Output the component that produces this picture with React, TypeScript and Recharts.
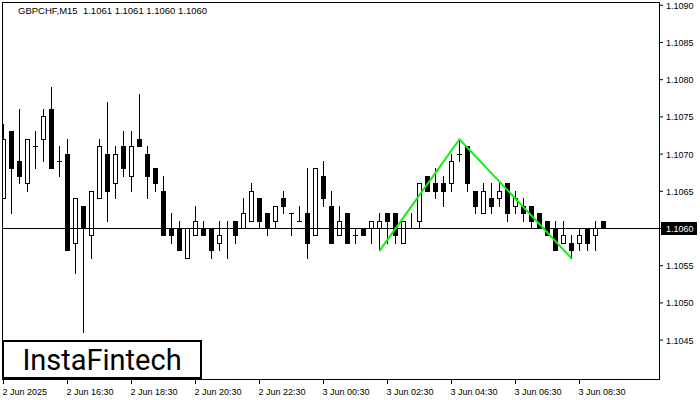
import { ComposedChart, Bar, Line, XAxis, YAxis, ReferenceLine } from "recharts";

// GBPCHF M15, 2 Jun 14:30 -> 3 Jun 09:15
const opens = [
  1.1064, 1.1073, 1.1069, 1.1066, 1.1071, 1.1072, 1.1076, 1.1069, 1.107, 1.1058,
  1.1063, 1.1059, 1.1064, 1.107, 1.1066, 1.1071, 1.1067, 1.1072, 1.107, 1.1068,
  1.1065, 1.106, 1.106, 1.1056, 1.1059, 1.106, 1.106, 1.1058, 1.106, 1.1061,
  1.106, 1.1061, 1.1064, 1.1062, 1.1061, 1.1064, 1.1062, 1.1061, 1.1062, 1.1059,
  1.1067, 1.1063, 1.1059, 1.1062, 1.1059, 1.106, 1.106, 1.106, 1.1062, 1.1062,
  1.1058, 1.106, 1.1061, 1.1067, 1.1066, 1.1066, 1.1066, 1.107, 1.1071, 1.1065,
  1.1062, 1.1064, 1.1064, 1.1066, 1.1063, 1.1063, 1.1063, 1.1062, 1.1061, 1.106,
  1.1058, 1.1058, 1.1058, 1.106, 1.1059, 1.1061,
];
const highs = [
  1.1074, 1.1073, 1.1076, 1.1072, 1.1073, 1.1076, 1.1079, 1.1071, 1.1072, 1.1064,
  1.1063, 1.1065, 1.1072, 1.1077, 1.1071, 1.1073, 1.1073, 1.1078, 1.1071, 1.1068,
  1.1067, 1.1062, 1.1061, 1.106, 1.1063, 1.1061, 1.106, 1.1061, 1.1061, 1.1061,
  1.1064, 1.1066, 1.1064, 1.1062, 1.1063, 1.1065, 1.1062, 1.1063, 1.1068, 1.1068,
  1.1069, 1.1065, 1.1063, 1.1062, 1.106, 1.106, 1.1061, 1.1062, 1.1062, 1.1062,
  1.1061, 1.1062, 1.1066, 1.1067, 1.1068, 1.1067, 1.107, 1.1072, 1.1071, 1.1065,
  1.1066, 1.1066, 1.1066, 1.1066, 1.1065, 1.1064, 1.1063, 1.1062, 1.1061, 1.1061,
  1.1061, 1.1059, 1.106, 1.106, 1.1061, 1.1061,
];
const lows = [
  1.1064, 1.1062, 1.1066, 1.1065, 1.1068, 1.1069, 1.1068, 1.1067, 1.1057, 1.1054,
  1.1046, 1.1056, 1.1064, 1.1061, 1.1064, 1.1067, 1.1065, 1.1071, 1.1064, 1.1065,
  1.1059, 1.1058, 1.1057, 1.1056, 1.1059, 1.1059, 1.1056, 1.1057, 1.1056, 1.1058,
  1.106, 1.1061, 1.106, 1.1059, 1.106, 1.1062, 1.1059, 1.1061, 1.1056, 1.1059,
  1.1063, 1.1058, 1.1059, 1.1058, 1.1058, 1.1059, 1.1058, 1.1057, 1.1058, 1.1058,
  1.1058, 1.106, 1.106, 1.1065, 1.1064, 1.1063, 1.1065, 1.1069, 1.1065, 1.1062,
  1.1062, 1.1062, 1.1063, 1.1061, 1.1062, 1.1061, 1.106, 1.106, 1.1059, 1.1057,
  1.1058, 1.1056, 1.1057, 1.1057, 1.1057, 1.106,
];
const closes = [
  1.1072, 1.1068, 1.1067, 1.1072, 1.1071, 1.1075, 1.1068, 1.1069, 1.1057, 1.1064,
  1.106, 1.1065, 1.1071, 1.1065, 1.107, 1.1068, 1.1071, 1.1071, 1.1067, 1.1066,
  1.1059, 1.1059, 1.1057, 1.106, 1.1061, 1.1059, 1.1057, 1.1059, 1.106, 1.1059,
  1.1062, 1.1065, 1.1061, 1.106, 1.1063, 1.1063, 1.1062, 1.1061, 1.1058, 1.1068,
  1.1064, 1.1058, 1.1061, 1.1058, 1.1059, 1.1059, 1.1061, 1.1061, 1.1061, 1.1059,
  1.1061, 1.106, 1.1066, 1.1065, 1.1065, 1.1065, 1.1069, 1.107, 1.1066, 1.1063,
  1.1065, 1.1063, 1.1065, 1.1062, 1.1064, 1.1062, 1.1061, 1.106, 1.1059, 1.1057,
  1.1059, 1.1057, 1.1059, 1.1058, 1.106, 1.106,
];

// green "top" pattern: bar index -> price
const patternBars = [47, 57, 71];
const patternPrices = [1.1057, 1.1072, 1.1056];

const timeTicks = [0, 8, 16, 24, 32, 40, 48, 56, 64, 72];
const timeLabels = [
  "2 Jun 2025", "2 Jun 16:30", "2 Jun 18:30", "2 Jun 20:30", "2 Jun 22:30",
  "3 Jun 00:30", "3 Jun 02:30", "3 Jun 04:30", "3 Jun 06:30", "3 Jun 08:30",
];
const priceTicks = [1.1045, 1.105, 1.1055, 1.106, 1.1065, 1.107, 1.1075, 1.108, 1.1085, 1.109];
const lastPrice = 1.106;

const data = opens.map((o, i) => {
  const p = patternBars.indexOf(i);
  return {
    i,
    open: o,
    high: highs[i],
    low: lows[i],
    close: closes[i],
    range: [lows[i], highs[i]],
    pattern: p >= 0 ? patternPrices[p] : null,
  };
});

const FONT = "'Liberation Sans', Arial, sans-serif";

function Candle(props: any) {
  const { x, y, width, height, payload } = props;
  const { open, close, high, low } = payload;
  const cx = Math.floor(x + width / 2) + 0.5;
  const k = high === low ? 0 : height / (high - low);
  const py = (v: number) => Math.floor(y + (high - v) * k) + 0.5;
  const top = py(Math.max(open, close));
  const bot = py(Math.min(open, close));
  return (
    <g>
      <line x1={cx} x2={cx} y1={py(high) - 0.5} y2={py(low) + 0.5} stroke="#000" strokeWidth={1} />
      {open === close ? (
        <line x1={cx - 2.5} x2={cx + 2.5} y1={top} y2={top} stroke="#000" strokeWidth={1} />
      ) : (
        <rect
          x={cx - 2}
          y={top}
          width={4}
          height={bot - top}
          fill={close > open ? "#fff" : "#000"}
          stroke="#000"
          strokeWidth={1}
        />
      )}
    </g>
  );
}

function PriceTick(props: any) {
  const { x, y, payload } = props;
  const hi = Math.abs(payload.value - lastPrice) < 1e-7;
  return (
    <g>
      {hi && <rect x={x - 5} y={y - 6.5} width={36} height={13} fill="#000" />}
      <text x={x} y={y} dy={3.5} fontSize={9} fontFamily={FONT} fill={hi ? "#fff" : "#000"}>
        {payload.value.toFixed(4)}
      </text>
    </g>
  );
}

function TimeTick(props: any) {
  const { x, y, payload } = props;
  const idx = timeTicks.indexOf(payload.value);
  return (
    <text x={x - 1} y={y} dy={8} fontSize={9} fontFamily={FONT} fill="#000" textAnchor="start">
      {timeLabels[idx]}
    </text>
  );
}

export default function App() {
  return (
    <div style={{ position: "absolute", left: 0, top: 0, width: 700, height: 400, background: "#fff" }}>
      <ComposedChart width={700} height={400} data={data} margin={{ top: 2, right: 0, bottom: 0, left: 2 }}>
        <XAxis
          dataKey="i"
          type="number"
          domain={[-0.1875, 82.0625]}
          allowDataOverflow
          ticks={timeTicks}
          interval={0}
          height={20}
          tickSize={4}
          tickMargin={3}
          axisLine={false}
          tickLine={{ stroke: "#000" }}
          tick={TimeTick}
        />
        <YAxis
          orientation="right"
          type="number"
          domain={[1.103964, 1.109044]}
          allowDataOverflow
          ticks={priceTicks}
          interval={0}
          width={40}
          tickSize={3}
          tickMargin={3}
          axisLine={false}
          tickLine={{ stroke: "#000" }}
          tick={PriceTick}
        />
        <ReferenceLine y={lastPrice} stroke="#000" strokeWidth={1} />
        <Bar dataKey="range" barSize={5} shape={Candle} isAnimationActive={false} />
        <Line
          dataKey="pattern"
          stroke="#11ee11"
          strokeWidth={2}
          dot={false}
          connectNulls
          isAnimationActive={false}
        />
      </ComposedChart>
      <div style={{ position: "absolute", left: 0, top: 0, width: 2, height: 381, background: "#fff" }} />
      <div
        style={{
          position: "absolute",
          left: 2,
          top: 2,
          width: 658,
          height: 378,
          boxSizing: "border-box",
          border: "1px solid #000",
          pointerEvents: "none",
        }}
      />
      <div
        style={{
          position: "absolute",
          left: 18,
          top: 5,
          fontFamily: FONT,
          fontSize: 9.5,
          color: "#000",
          whiteSpace: "pre",
        }}
      >
        {"GBPCHF,M15  1.1061 1.1061 1.1060 1.1060"}
      </div>
      <div
        style={{
          position: "absolute",
          left: 2,
          top: 340,
          width: 200,
          height: 39,
          boxSizing: "border-box",
          border: "2px solid #000",
          background: "#fff",
          display: "flex",
          alignItems: "center",
          justifyContent: "center",
          fontFamily: "Roboto, sans-serif",
          fontSize: 29,
          color: "#000",
        }}
      >
        InstaFintech
      </div>
    </div>
  );
}
